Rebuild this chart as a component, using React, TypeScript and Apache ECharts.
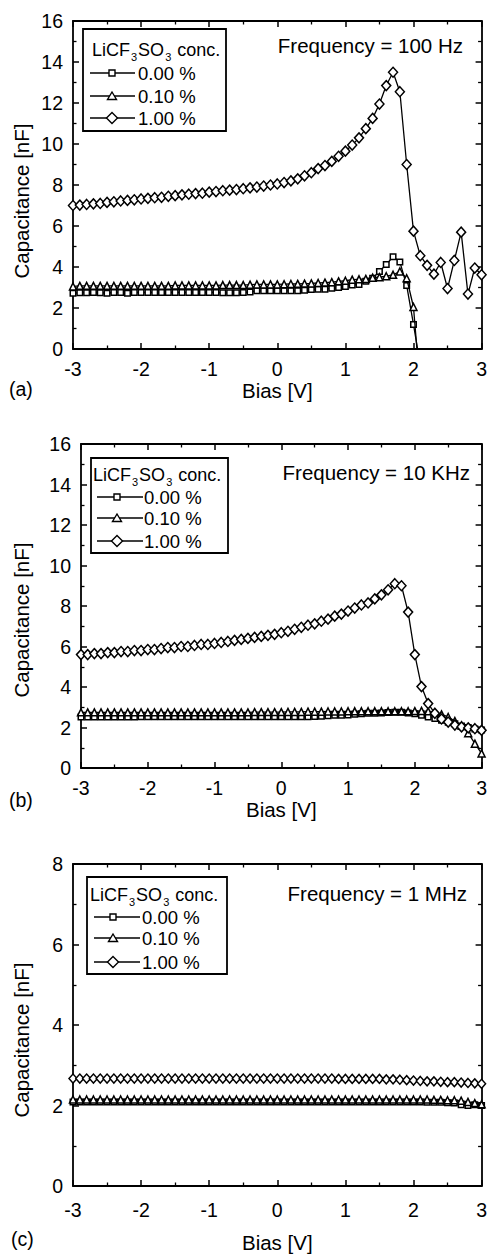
import React, { useEffect, useRef } from "react";
import * as echarts from "echarts";

// Bias values (V)
const bias = [
  -3.0, -2.9, -2.8, -2.7, -2.6, -2.5, -2.4, -2.3, -2.2, -2.1,
  -2.0, -1.9, -1.8, -1.7, -1.6, -1.5, -1.4, -1.3, -1.2, -1.1,
  -1.0, -0.9, -0.8, -0.7, -0.6, -0.5, -0.4, -0.3, -0.2, -0.1,
  0.0, 0.1, 0.2, 0.3, 0.4, 0.5, 0.6, 0.7, 0.8, 0.9,
  1.0, 1.1, 1.2, 1.3, 1.4, 1.5, 1.6, 1.7, 1.8, 1.9,
  2.0, 2.1, 2.2, 2.3, 2.4, 2.5, 2.6, 2.7, 2.8, 2.9, 3.0,
];

const seriesNames = ["0.00 %", "0.10 %", "1.00 %"];

// (a) Frequency = 100 Hz
const a000 = [
  2.72, 2.75, 2.75, 2.76, 2.75, 2.72, 2.76, 2.76, 2.72, 2.76,
  2.76, 2.76, 2.76, 2.76, 2.76, 2.76, 2.76, 2.76, 2.76, 2.76,
  2.76, 2.76, 2.74, 2.74, 2.74, 2.76, 2.78, 2.84, 2.84, 2.84,
  2.84, 2.84, 2.84, 2.84, 2.86, 2.9, 2.92, 2.92, 2.96, 3.0,
  3.05, 3.12, 3.15, 3.3, 3.45, 3.78, 4.12, 4.5, 4.25, 3.1,
  1.2, -0.8,
];
const a010 = [
  3.05, 3.08, 3.08, 3.08, 3.08, 3.08, 3.08, 3.08, 3.08, 3.08,
  3.08, 3.08, 3.08, 3.08, 3.08, 3.1, 3.1, 3.1, 3.1, 3.1,
  3.1, 3.1, 3.12, 3.12, 3.12, 3.12, 3.14, 3.15, 3.15, 3.15,
  3.15, 3.16, 3.17, 3.18, 3.19, 3.2, 3.22, 3.24, 3.26, 3.3,
  3.33, 3.38, 3.4, 3.42, 3.48, 3.5, 3.55, 3.62, 3.78, 3.45,
  2.05, -2.0,
];
const a100 = [
  7.0, 7.02, 7.05, 7.08, 7.1, 7.15, 7.18, 7.22, 7.25, 7.28,
  7.32, 7.35, 7.38, 7.4, 7.45, 7.48, 7.52, 7.55, 7.58, 7.6,
  7.65, 7.68, 7.72, 7.75, 7.78, 7.82, 7.86, 7.9, 7.95, 8.0,
  8.05, 8.12, 8.2, 8.3, 8.45, 8.6, 8.8, 8.95, 9.15, 9.4,
  9.65, 9.95, 10.3, 10.75, 11.25, 11.95, 12.85, 13.5, 12.55, 9.0,
  5.75, 4.55, 4.08, 3.65, 4.22, 2.95, 4.32, 5.7, 2.68, 3.95, 3.62,
];

// (b) Frequency = 10 KHz
const b000 = [
  2.52, 2.52, 2.52, 2.52, 2.52, 2.52, 2.52, 2.52, 2.52, 2.53,
  2.53, 2.53, 2.53, 2.53, 2.53, 2.53, 2.53, 2.53, 2.53, 2.53,
  2.53, 2.53, 2.53, 2.53, 2.53, 2.53, 2.53, 2.53, 2.53, 2.53,
  2.53, 2.53, 2.53, 2.53, 2.53, 2.54, 2.55, 2.58, 2.6, 2.6,
  2.62, 2.65, 2.68, 2.7, 2.7, 2.72, 2.74, 2.75, 2.75, 2.72,
  2.68, 2.6, 2.52, 2.45, 2.36, 2.26, 2.18, 2.08, 2.0, 1.92, 1.88,
];
const b010 = [
  2.75, 2.75, 2.75, 2.75, 2.75, 2.75, 2.75, 2.75, 2.75, 2.75,
  2.75, 2.75, 2.75, 2.75, 2.75, 2.75, 2.75, 2.75, 2.75, 2.75,
  2.75, 2.75, 2.75, 2.75, 2.75, 2.75, 2.76, 2.76, 2.76, 2.76,
  2.76, 2.77, 2.77, 2.77, 2.78, 2.78, 2.78, 2.79, 2.79, 2.79,
  2.8, 2.8, 2.8, 2.8, 2.8, 2.8, 2.8, 2.8, 2.8, 2.8,
  2.81, 2.82, 2.8, 2.75, 2.65, 2.52, 2.32, 2.1, 1.72, 1.2, 0.72,
];
const b100 = [
  5.6, 5.6, 5.65, 5.65, 5.7, 5.7, 5.75, 5.75, 5.8, 5.8,
  5.85, 5.85, 5.9, 5.95, 5.95, 6.0, 6.0, 6.05, 6.1, 6.1,
  6.15, 6.2, 6.25, 6.3, 6.35, 6.4, 6.45, 6.5, 6.55, 6.6,
  6.68, 6.75, 6.85, 6.95, 7.05, 7.12, 7.25, 7.35, 7.5, 7.6,
  7.75, 7.9, 8.05, 8.15, 8.35, 8.55, 8.8, 9.1, 9.0, 7.7,
  5.6, 4.02, 3.18, 2.7, 2.42, 2.27, 2.12, 2.03, 1.98, 1.94, 1.86,
];

// (c) Frequency = 1 MHz
const c000 = [
  2.09, 2.09, 2.09, 2.09, 2.09, 2.09, 2.09, 2.09, 2.09, 2.09,
  2.09, 2.09, 2.09, 2.09, 2.09, 2.09, 2.09, 2.09, 2.09, 2.09,
  2.09, 2.09, 2.09, 2.09, 2.09, 2.09, 2.09, 2.09, 2.09, 2.09,
  2.09, 2.09, 2.09, 2.09, 2.09, 2.09, 2.09, 2.09, 2.09, 2.09,
  2.09, 2.09, 2.09, 2.09, 2.09, 2.09, 2.09, 2.09, 2.09, 2.09,
  2.09, 2.09, 2.08, 2.08, 2.08, 2.07, 2.06, 2.02, 2.0, 2.02, 2.0,
];
const c010 = [
  2.15, 2.15, 2.15, 2.15, 2.15, 2.15, 2.15, 2.15, 2.15, 2.15,
  2.15, 2.15, 2.15, 2.15, 2.15, 2.15, 2.15, 2.15, 2.15, 2.15,
  2.15, 2.15, 2.15, 2.15, 2.15, 2.15, 2.15, 2.15, 2.15, 2.15,
  2.15, 2.15, 2.15, 2.15, 2.15, 2.15, 2.15, 2.15, 2.15, 2.15,
  2.15, 2.15, 2.15, 2.15, 2.15, 2.15, 2.15, 2.15, 2.15, 2.15,
  2.15, 2.15, 2.15, 2.14, 2.14, 2.13, 2.13, 2.12, 2.09, 2.06, 2.03,
];
const c100 = [
  2.67, 2.67, 2.67, 2.67, 2.67, 2.67, 2.67, 2.67, 2.67, 2.67,
  2.67, 2.67, 2.67, 2.67, 2.67, 2.67, 2.67, 2.67, 2.67, 2.67,
  2.67, 2.67, 2.67, 2.67, 2.67, 2.67, 2.67, 2.67, 2.67, 2.67,
  2.67, 2.67, 2.67, 2.67, 2.67, 2.67, 2.67, 2.67, 2.67, 2.66,
  2.66, 2.66, 2.66, 2.66, 2.66, 2.66, 2.65, 2.65, 2.64, 2.63,
  2.62, 2.61, 2.6, 2.6, 2.59, 2.58, 2.58, 2.57, 2.56, 2.55, 2.54,
];

const xTicks = { min: -3, max: 3, interval: 1 };
const yTicksAB = { min: 0, max: 16, interval: 2 };
const yTicksC = { min: 0, max: 8, interval: 2 };

const frequencyLabels = ["Frequency = 100 Hz", "Frequency = 10 KHz", "Frequency = 1 MHz"];
const panelLabels = ["(a)", "(b)", "(c)"];

const FONT = "'Liberation Sans', Arial, Helvetica, sans-serif";

const pairs = (arr: number[]) => arr.map((v, i) => [bias[i], v]);

export default function App() {
  const ref = useRef<HTMLDivElement>(null);

  useEffect(() => {
    if (!ref.current) return;
    const chart = echarts.init(ref.current, undefined, { renderer: "svg" });

    const grids = [
      { left: 73, top: 21, width: 410, height: 328 },
      { left: 81, top: 444, width: 402, height: 324 },
      { left: 73, top: 864, width: 410, height: 325 },
    ];
    const yRanges = [yTicksAB, yTicksAB, yTicksC];
    const xLabelMargin = [10, 10, 14];
    const xNameGap = [31, 31, 46];

    const axisLine = { show: true, onZero: false, lineStyle: { color: "#000", width: 1.8 } };
    const axisTick = { show: true, inside: true, length: 6, lineStyle: { color: "#000", width: 1.5 } };
    const minorTick = { show: true, splitNumber: 2, length: 3.5, lineStyle: { color: "#000", width: 1.3 } };
    const labelStyle = { color: "#000", fontSize: 19.5, fontFamily: FONT };

    const xAxis: any[] = [];
    const yAxis: any[] = [];
    grids.forEach((g, i) => {
      xAxis.push({
        type: "value", gridIndex: i, position: "bottom", ...xTicks,
        axisLine, axisTick, minorTick, splitLine: { show: false },
        axisLabel: { ...labelStyle, margin: xLabelMargin[i] },
        name: "Bias [V]", nameLocation: "middle", nameGap: xNameGap[i],
        nameTextStyle: { color: "#000", fontSize: 20.5, fontFamily: FONT },
      });
      xAxis.push({
        type: "value", gridIndex: i, position: "top", ...xTicks,
        axisLine, axisTick, minorTick, splitLine: { show: false },
        axisLabel: { show: false },
      });
      yAxis.push({
        type: "value", gridIndex: i, position: "left", ...yRanges[i],
        axisLine, axisTick, minorTick, splitLine: { show: false },
        axisLabel: { ...labelStyle, margin: 10 },
      });
      yAxis.push({
        type: "value", gridIndex: i, position: "right", ...yRanges[i],
        axisLine, axisTick, minorTick, splitLine: { show: false },
        axisLabel: { show: false },
      });
    });

    const symbolDefs = [
      { symbol: "rect", sizes: [5.5, 5.5, 5.5] },
      { symbol: "triangle", sizes: [7, 7, 7] },
      { symbol: "diamond", sizes: [[9, 10], [9, 10], [8, 9]] },
    ];
    const panelData = [
      [a000, a010, a100],
      [b000, b010, b100],
      [c000, c010, c100],
    ];

    const series: any[] = [];
    panelData.forEach((sets, p) => {
      sets.forEach((arr, s) => {
        series.push({
          type: "line",
          name: seriesNames[s],
          xAxisIndex: p * 2,
          yAxisIndex: p * 2,
          data: pairs(arr),
          symbol: symbolDefs[s].symbol,
          symbolSize: symbolDefs[s].sizes[p],
          showAllSymbol: true,
          clip: true,
          lineStyle: { color: "#000", width: 1.3 },
          itemStyle: { color: "#fff", borderColor: "#000", borderWidth: 1.5 },
          z: 2 + s,
        });
      });
    });

    // Legend boxes and annotations
    const legendDefs = [
      { box: [83, 29, 143, 102], titleX: 92, titleY: 50, rows: [73, 96, 118], l1: 90, l2: 135, m: 112, tx: 138 },
      { box: [91, 458, 137, 95], titleX: 93, titleY: 475, rows: [497, 518, 541], l1: 97, l2: 143, m: 117, tx: 144 },
      { box: [87, 877, 140, 97], titleX: 90, titleY: 895, rows: [917, 938, 962], l1: 94, l2: 140, m: 113, tx: 142 },
    ];
    const freqPos = [[463, 45], [470, 472], [467, 893]];
    const yNamePos = [[21, 201], [21, 620], [21, 1040]];
    const panelLabelPos = [[9, 389], [9, 800], [11, 1239]];

    const graphic: any[] = [];
    legendDefs.forEach((L, p) => {
      graphic.push({
        type: "rect", z: 10,
        shape: { x: L.box[0], y: L.box[1], width: L.box[2], height: L.box[3] },
        style: { fill: "#fff", stroke: "#000", lineWidth: 1.8 },
      });
      graphic.push({
        type: "text", z: 11, x: L.titleX, y: L.titleY,
        style: {
          text: "{n|LiCF}{s|3}{n|SO}{s|3}{n| conc.}",
          verticalAlign: "middle", align: "left",
          rich: {
            n: { fontSize: 18, fontFamily: FONT, fill: "#000", color: "#000" },
            s: { fontSize: 11, fontFamily: FONT, fill: "#000", color: "#000", padding: [13, 1, 0, 1] },
          },
        },
      });
      L.rows.forEach((ry, s) => {
        graphic.push({
          type: "line", z: 11,
          shape: { x1: L.l1, y1: ry, x2: L.l2, y2: ry },
          style: { stroke: "#000", lineWidth: 1.5 },
        });
        const m = L.m;
        if (s === 0) {
          graphic.push({
            type: "rect", z: 12, shape: { x: m - 3, y: ry - 3, width: 6, height: 6 },
            style: { fill: "#fff", stroke: "#000", lineWidth: 1.4 },
          });
        } else if (s === 1) {
          graphic.push({
            type: "polygon", z: 12, shape: { points: [[m, ry - 4], [m + 4.5, ry + 3.5], [m - 4.5, ry + 3.5]] },
            style: { fill: "#fff", stroke: "#000", lineWidth: 1.4 },
          });
        } else {
          graphic.push({
            type: "polygon", z: 12, shape: { points: [[m, ry - 5.5], [m + 5.5, ry], [m, ry + 5.5], [m - 5.5, ry]] },
            style: { fill: "#fff", stroke: "#000", lineWidth: 1.4 },
          });
        }
        graphic.push({
          type: "text", z: 12, x: L.tx, y: ry,
          style: { text: seriesNames[s], fontSize: 18.5, fontFamily: FONT, fill: "#000", verticalAlign: "middle", align: "left" },
        });
      });
      graphic.push({
        type: "text", z: 12, x: freqPos[p][0], y: freqPos[p][1],
        style: { text: frequencyLabels[p], fontSize: 20.5, fontFamily: FONT, fill: "#000", align: "right", verticalAlign: "middle" },
      });
      graphic.push({
        type: "text", z: 12, x: yNamePos[p][0], y: yNamePos[p][1], rotation: Math.PI / 2,
        style: { text: "Capacitance [nF]", fontSize: 20.5, fontFamily: FONT, fill: "#000", align: "center", verticalAlign: "middle" },
      });
      graphic.push({
        type: "text", z: 12, x: panelLabelPos[p][0], y: panelLabelPos[p][1],
        style: { text: panelLabels[p], fontSize: 19.5, fontFamily: FONT, fill: "#000", align: "left", verticalAlign: "middle" },
      });
    });

    chart.setOption({
      animation: false,
      backgroundColor: "#fff",
      grid: grids,
      xAxis,
      yAxis,
      series,
      graphic,
    });

    return () => chart.dispose();
  }, []);

  return (
    <div
      ref={ref}
      style={{ position: "absolute", left: 0, top: 0, width: 490, height: 1254, background: "#fff" }}
    />
  );
}
